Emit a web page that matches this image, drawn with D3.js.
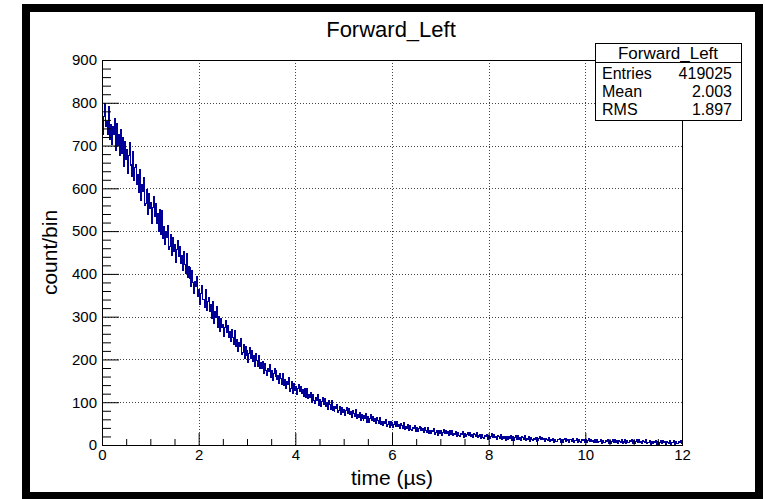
<!DOCTYPE html>
<html>
<head>
<meta charset="utf-8">
<script src="https://cdn.jsdelivr.net/npm/d3@7"></script>
<style>
  body { margin: 0; background: #fff; }
  svg { display: block; font-family: "Liberation Sans", Arial, Helvetica, sans-serif; }
</style>
</head>
<body>
<div id="chart"></div>
<script>
// Histogram data (bins of 0.02 us from 0 to 12)
var histName = "Forward_Left";
var xTitle = "time (\u00b5s)";
var yTitle = "count/bin";
var binWidth = 0.02;
var counts = [
  783, 726, 768, 798, 745,  756, 726, 791, 715, 749,  703, 745, 726, 764, 688,  752, 699, 725, 676, 737,
  682, 720, 652, 709, 667,  691, 634, 676, 706, 653,  655, 628, 685, 619, 648,  656, 610, 633, 590, 643,
  572, 608, 592, 625, 559,  565, 598, 539, 589, 552,  568, 518, 555, 581, 535,  564, 518, 541, 498, 551,
  518, 491, 548, 482, 511,  469, 500, 486, 514, 458,  464, 492, 442, 484, 453,  468, 426, 457, 479, 440,
  463, 424, 443, 407, 452,  422, 400, 448, 392, 417,  390, 414, 371, 407, 381,  355, 382, 370, 394, 346,
  364, 328, 355, 374, 340,  341, 322, 363, 315, 336,  344, 311, 328, 296, 335,  284, 311, 299, 323, 275,
  281, 300, 266, 295, 274,  282, 254, 275, 290, 263,  279, 252, 266, 241, 271,  251, 235, 268, 230, 247,
  219, 240, 230, 249, 211,  217, 236, 202, 231, 210,  221, 193, 214, 229, 202,  222, 195, 209, 184, 214,
  197, 184, 210, 180, 194,  180, 195, 168, 191, 174,  163, 180, 172, 188, 157,  174, 151, 168, 180, 159,
  174, 152, 163, 143, 168,  155, 142, 168, 138, 152,  132, 149, 141, 157, 126,  133, 148, 121, 144, 127,
  137, 119, 132, 142, 125,  137, 120, 129, 113, 132,  122, 112, 132, 108, 119,  110, 122, 100, 118, 105,
  98, 111, 105, 117, 93,    107, 89, 102, 112, 95,    108, 91, 100, 84, 103,   94, 84, 104, 80, 91,
  79, 90, 85, 95, 75,       80, 90, 72, 87, 76,       84, 69, 80, 88, 74,       85, 71, 78, 65, 81,
  74, 66, 83, 63, 72,       65, 75, 57, 72, 61,       57, 68, 63, 73, 53,       67, 52, 63, 71, 57,
  67, 56, 61, 51, 64,       57, 51, 65, 49, 56,       46, 55, 51, 59, 43,       48, 56, 42, 54, 45,
  52, 40, 49, 55, 44,       54, 43, 48, 38, 51,       45, 39, 53, 37, 44,       39, 47, 33, 45, 36,
  34, 42, 38, 45, 32,       41, 31, 38, 44, 34,       42, 33, 38, 29, 40,       35, 30, 41, 28, 34,
  27, 35, 31, 38, 25,       29, 35, 23, 33, 26,       33, 23, 30, 36, 26,       35, 26, 31, 22, 33,
  29, 24, 35, 22, 28,       25, 31, 19, 29, 22,       20, 28, 24, 31, 18,       27, 19, 25, 30, 22,
  29, 21, 25, 18, 27,       24, 19, 29, 18, 23,       20, 25, 15, 24, 18,       16, 22, 19, 25, 14,
  23, 15, 21, 26, 18,       25, 17, 21, 14, 23,       20, 15, 25, 14, 19,       16, 21, 11, 20, 14,
  13, 19, 16, 22, 11,       19, 11, 17, 22, 14,       22, 14, 18, 11, 20,       17, 12, 22, 11, 16,
  14, 19, 9, 18, 12,        11, 16, 14, 18, 9,        17, 10, 15, 19, 12,       18, 12, 15, 9, 16,
  14, 11, 18, 9, 13,        11, 16, 7, 14, 9,         9, 14, 12, 16, 7,         14, 7, 12, 16, 9,
  16, 10, 13, 7, 14,        12, 9, 16, 7, 11,         10, 15, 6, 13, 8,         7, 12, 10, 14, 5,
  13, 6, 11, 15, 8,         14, 8, 11, 5, 12,         10, 7, 14, 5, 9,          8, 13, 4, 11, 6,
  6, 11, 9, 13, 4,          11, 4, 9, 13, 6,          13, 7, 10, 4, 11,         9, 6, 13, 4, 8,
  7, 12, 3, 10, 5,          5, 10, 8, 12, 3,          10, 3, 8, 12, 5,          12, 6, 9, 3, 10,
  8, 5, 12, 3, 7,           6, 11, 2, 9, 4,           4, 9, 7, 11, 2,           9, 2, 7, 11, 4,
  11, 5, 8, 2, 9,           7, 4, 11, 2, 6,           5, 10, 1, 8, 3,           3, 8, 6, 10, 4
];
var xMajor = [0, 2, 4, 6, 8, 10, 12];
var yMajor = [0, 100, 200, 300, 400, 500, 600, 700, 800, 900];
var statLabels = ["Entries", "Mean", "RMS"];
var statValues = ["419025", "2.003", "1.897"];

var W = 765, H = 499;
var frame = {left: 102, right: 682, top: 60, bottom: 445};

var svg = d3.select("#chart").append("svg")
    .attr("width", W)
    .attr("height", H);

svg.append("rect").attr("width", W).attr("height", H).attr("fill", "#fff");

var x = d3.scaleLinear().domain([0, 12]).range([frame.left, frame.right]);
var y = d3.scaleLinear().domain([0, 900]).range([frame.bottom, frame.top]);

// grid
var grid = svg.append("g").attr("class", "grid")
    .attr("stroke", "#444").attr("stroke-dasharray", "1,2").attr("stroke-width", 1);
grid.selectAll(".gx").data(xMajor.slice(1, -1)).enter().append("line")
    .attr("x1", d => Math.round(x(d)) + 0.5).attr("x2", d => Math.round(x(d)) + 0.5)
    .attr("y1", frame.top).attr("y2", frame.bottom);
grid.selectAll(".gy").data(yMajor.slice(1, -1)).enter().append("line")
    .attr("y1", d => Math.round(y(d)) + 0.5).attr("y2", d => Math.round(y(d)) + 0.5)
    .attr("x1", frame.left).attr("x2", frame.right);

// histogram outline
var pts = counts.map((c, i) => [i * binWidth, c]);
pts.push([counts.length * binWidth, counts[counts.length - 1]]);
var line = d3.line()
    .x(d => x(d[0]))
    .y(d => y(d[1]))
    .curve(d3.curveStepAfter);
svg.append("path")
    .datum(pts)
    .attr("d", line)
    .attr("fill", "none")
    .attr("stroke", "#000099")
    .attr("stroke-width", 1)
    .attr("shape-rendering", "crispEdges");

// axes (ROOT style, ticks pointing inside)
var xMinor = d3.range(0, 12.001, 0.5).filter(v => xMajor.indexOf(v) < 0);
var yMinor = d3.range(0, 900.1, 20).filter(v => v % 100 !== 0);

svg.append("g")
    .attr("transform", "translate(0," + frame.bottom + ")")
    .call(d3.axisBottom(x).tickValues(xMinor).tickSize(-6).tickFormat(""))
    .call(g => g.select(".domain").remove());
var xAx = svg.append("g")
    .attr("transform", "translate(0," + frame.bottom + ")")
    .call(d3.axisBottom(x).tickValues(xMajor).tickSize(-12).tickPadding(4).tickFormat(d3.format("d")))
    .call(g => g.select(".domain").remove());
xAx.selectAll("text").attr("font-size", 15).attr("fill", "#000")
    .attr("font-family", "Liberation Sans, Arial, sans-serif");

svg.append("g")
    .attr("transform", "translate(" + frame.left + ",0)")
    .call(d3.axisLeft(y).tickValues(yMinor).tickSize(-9).tickFormat(""))
    .call(g => g.select(".domain").remove());
var yAx = svg.append("g")
    .attr("transform", "translate(" + frame.left + ",0)")
    .call(d3.axisLeft(y).tickValues(yMajor).tickSize(-17).tickPadding(5).tickFormat(d3.format("d")))
    .call(g => g.select(".domain").remove());
yAx.selectAll("text").attr("font-size", 15).attr("fill", "#000")
    .attr("font-family", "Liberation Sans, Arial, sans-serif");

svg.selectAll(".tick line").attr("stroke", "#000");

// frame
svg.append("rect")
    .attr("x", frame.left + 0.5).attr("y", frame.top + 0.5)
    .attr("width", frame.right - frame.left).attr("height", frame.bottom - frame.top)
    .attr("fill", "none").attr("stroke", "#000").attr("stroke-width", 1);

// titles
svg.append("text")
    .attr("x", 391).attr("y", 37)
    .attr("text-anchor", "middle")
    .attr("font-size", 22)
    .text(histName);

svg.append("text")
    .attr("x", (frame.left + frame.right) / 2).attr("y", 485)
    .attr("text-anchor", "middle")
    .attr("font-size", 21)
    .text(xTitle);

svg.append("text")
    .attr("transform", "translate(57," + (frame.top + frame.bottom) / 2 + ") rotate(-90)")
    .attr("text-anchor", "middle")
    .attr("font-size", 21)
    .text(yTitle);

// stats box
var box = svg.append("g").attr("transform", "translate(595,43)");
box.append("rect")
    .attr("x", 0.5).attr("y", 0.5).attr("width", 146).attr("height", 77)
    .attr("fill", "#fff").attr("stroke", "#000");
box.append("line")
    .attr("x1", 0).attr("x2", 146).attr("y1", 19.5).attr("y2", 19.5)
    .attr("stroke", "#000");
box.append("text")
    .attr("x", 73).attr("y", 16)
    .attr("text-anchor", "middle")
    .attr("font-size", 17)
    .text(histName);
box.selectAll(".slab").data(statLabels).enter().append("text")
    .attr("x", 7).attr("y", (d, i) => 35.5 + i * 18)
    .attr("font-size", 16)
    .text(d => d);
box.selectAll(".sval").data(statValues).enter().append("text")
    .attr("x", 137).attr("y", (d, i) => 35.5 + i * 18)
    .attr("text-anchor", "end")
    .attr("font-size", 16)
    .text(d => d);

// canvas border
svg.append("rect")
    .attr("x", 26).attr("y", 8).attr("width", 733).attr("height", 488)
    .attr("fill", "none").attr("stroke", "#000").attr("stroke-width", 8);
</script>
</body>
</html>
